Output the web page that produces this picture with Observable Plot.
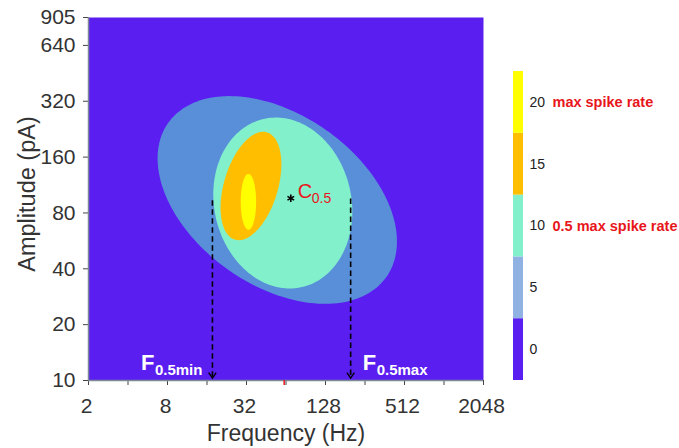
<!DOCTYPE html>
<html>
<head>
<meta charset="utf-8">
<script src="https://cdn.jsdelivr.net/npm/d3@7"></script>
<script src="https://cdn.jsdelivr.net/npm/@observablehq/plot@0.6"></script>
<style>
  html, body { margin: 0; padding: 0; background: #fff; }
  #wrap { position: relative; width: 679px; height: 448px; }
  #wrap svg { position: absolute; left: 0; top: 0; }
</style>
</head>
<body>
<div id="wrap"></div>
<script>
// ---- data ----
const xTicks = [2, 4, 8, 16, 32, 64, 128, 256, 512, 1024, 2048];
const xTickLabels = [2, 8, 32, 128, 512, 2048];
const yTicks = [10, 20, 40, 80, 160, 320, 640, 905];

// iso-rate contours (ellipses in log2-log2 space)
const contourLevels = [5, 10, 15, 20];
const centerFreq = [54.9, 60.5, 34.6, 33.1];      // Hz
const centerAmp = [94.0, 90.5, 111.8, 91.9];      // pA
const halfWidthOct = [3.03, 1.76, 0.77, 0.195];   // octaves of frequency
const halfHeightOct = [1.86, 1.53, 0.97, 0.50];   // octaves of amplitude
const tilt = [-0.40, -0.10, 0.40, 0.0];          // correlation of the ellipse

const fMin = 17.6, fMax = 199;   // F0.5min, F0.5max (Hz)
const fMarkAmp = [93, 95];       // amplitude where the dashed markers start
const cFreq = 69.6, cAmp = 96;   // C0.5
const redTickFreq = 62;

const barLevels = [0, 5, 10, 15, 20];
const barNotes = [{level: 20, text: "max spike rate"}, {level: 10, text: "0.5 max spike rate"}];

// ---- styles ----
const bg = "#5a1ef0";
const ellipseColors = ["#598fd9", "#83f0cc", "#ffbf00", "#ffff00"];
const barColors = ["#5a1ef0", "#8fb2e3", "#83f0cc", "#ffbf00", "#ffff00"];
const red = "#e8161b";
const axisGray = "#7d8a96";
const font = "'Liberation Sans', Arial, sans-serif";

function outline(i) {
  const pts = [];
  const cu = Math.log2(centerFreq[i]), cv = Math.log2(centerAmp[i]);
  const r = tilt[i], s = Math.sqrt(1 - r * r);
  for (let k = 0; k <= 180; k++) {
    const t = (k / 180) * 2 * Math.PI;
    const u = cu + halfWidthOct[i] * Math.cos(t);
    const v = cv + halfHeightOct[i] * (r * Math.cos(t) + s * Math.sin(t));
    pts.push({f: 2 ** u, a: 2 ** v, level: contourLevels[i]});
  }
  return pts;
}

// open chevron arrowhead, tip at the point
const chevron = {
  draw(ctx, size) {
    const r = Math.sqrt(size / Math.PI);
    ctx.moveTo(-0.75 * r, -1.1 * r);
    ctx.lineTo(0, 0);
    ctx.lineTo(0.75 * r, -1.1 * r);
  }
};

const x0 = 2, y0 = 10;
const xTickEnd = 10 * 2 ** (-5 / 56);      // 5px below the x axis
const yTickEnd = 2 * 2 ** (-5 / 39.5);     // 5px left of the y axis
const arrowTipAmp = 10.3;

const main = Plot.plot({
  width: 679, height: 448,
  marginLeft: 88, marginRight: 196, marginTop: 17, marginBottom: 68,
  style: {fontFamily: font, fontSize: "21px", color: "#333", background: "transparent", overflow: "visible"},
  x: {type: "log", base: 2, domain: [2, 2048], axis: null},
  y: {type: "log", domain: [10, 905], axis: null},
  marks: [
    Plot.frame({fill: bg, stroke: null}),
    ...contourLevels.map((_, i) => Plot.line(outline(i), {x: "f", y: "a", fill: ellipseColors[i], stroke: "none"})),
    // axes
    Plot.ruleX(xTicks, {y1: y0, y2: xTickEnd, stroke: "#444", strokeWidth: 1}),
    Plot.ruleY(yTicks, {x1: yTickEnd, x2: x0, stroke: "#444", strokeWidth: 1}),
    Plot.ruleY([y0], {x1: 2, x2: 2048, stroke: axisGray, strokeWidth: 1.5}),
    Plot.ruleX([x0], {y1: 10, y2: 905, stroke: axisGray, strokeWidth: 1.5}),
    Plot.text(xTickLabels, {x: d => d, frameAnchor: "bottom", lineAnchor: "top", textAnchor: "middle", dx: -2, dy: 18, text: d => String(d), fill: "#333"}),
    Plot.text(yTicks, {y: d => d, frameAnchor: "left", lineAnchor: "middle", textAnchor: "end", dx: -13, text: d => String(d), fill: "#333"}),
    // dashed markers for F0.5min / F0.5max
    Plot.ruleX([0, 1], {x: i => [fMin, fMax][i], y1: i => fMarkAmp[i], y2: arrowTipAmp, stroke: "black", strokeWidth: 1.6, strokeDasharray: "5.5,3.5"}),
    Plot.dot([fMin, fMax], {x: d => d, y: arrowTipAmp, symbol: chevron, r: 5, stroke: "black", strokeWidth: 1.4, fill: "none"}),
    // F labels
    Plot.text([fMin], {x: d => d, frameAnchor: "bottom", lineAnchor: "middle", text: () => "F", fill: "white", fontSize: 22, fontWeight: "bold", textAnchor: "end", dx: -58, dy: -18}),
    Plot.text([fMin], {x: d => d, frameAnchor: "bottom", lineAnchor: "middle", text: () => "0.5min", fill: "white", fontSize: 15, fontWeight: "bold", textAnchor: "end", dx: -10, dy: -10}),
    Plot.text([fMax], {x: d => d, frameAnchor: "bottom", lineAnchor: "middle", text: () => "F", fill: "white", fontSize: 22, fontWeight: "bold", textAnchor: "start", dx: 12, dy: -18}),
    Plot.text([fMax], {x: d => d, frameAnchor: "bottom", lineAnchor: "middle", text: () => "0.5max", fill: "white", fontSize: 15, fontWeight: "bold", textAnchor: "start", dx: 26, dy: -10}),
    // C0.5
    Plot.dot([[cFreq, cAmp]], {x: d => d[0], y: d => d[1], symbol: "asterisk", r: 3.6, stroke: "black", strokeWidth: 1.6}),
    Plot.text([[cFreq, cAmp]], {x: d => d[0], y: d => d[1], text: () => "C", fill: red, fontSize: 20, textAnchor: "start", dx: 7, dy: -7}),
    Plot.text([[cFreq, cAmp]], {x: d => d[0], y: d => d[1], text: () => "0.5", fill: red, fontSize: 14, textAnchor: "start", dx: 21, dy: 0}),
    // red tick on the x axis
    Plot.ruleX([redTickFreq], {y1: y0, y2: xTickEnd, stroke: red, strokeWidth: 1.5}),
    // axis titles
    Plot.text(["Frequency (Hz)"], {frameAnchor: "bottom", lineAnchor: "middle", textAnchor: "middle", text: d => d, fontSize: 23, fill: "#333", dy: 53}),
    Plot.text(["Amplitude (pA)"], {frameAnchor: "left", lineAnchor: "middle", textAnchor: "middle", text: d => d, fontSize: 23.5, fill: "#333", rotate: -90, dx: -61, dy: -5})
  ]
});

const bar = Plot.plot({
  width: 679, height: 448,
  marginLeft: 513, marginRight: 156, marginTop: 71, marginBottom: 68,
  style: {fontFamily: font, fontSize: "14px", color: "#222", background: "transparent", overflow: "visible"},
  x: {domain: [0, 1], axis: null},
  y: {domain: [-2.5, 22.5], axis: null},
  marks: [
    Plot.rect(barLevels, {x1: 0, x2: 1, y1: d => d - 2.5, y2: d => d + 2.5, fill: (d, i) => barColors[i]}),
    Plot.text(barLevels, {x: 1, y: d => d, text: d => String(d), textAnchor: "start", dx: 6, fill: "#222"}),
    Plot.text(barNotes, {x: 1, y: "level", text: "text", textAnchor: "start", dx: 29, fill: red, fontWeight: "bold", fontSize: 14.5})
  ]
});

const wrap = document.getElementById("wrap");
wrap.appendChild(main);
wrap.appendChild(bar);
bar.style.pointerEvents = "none";
</script>
</body>
</html>
